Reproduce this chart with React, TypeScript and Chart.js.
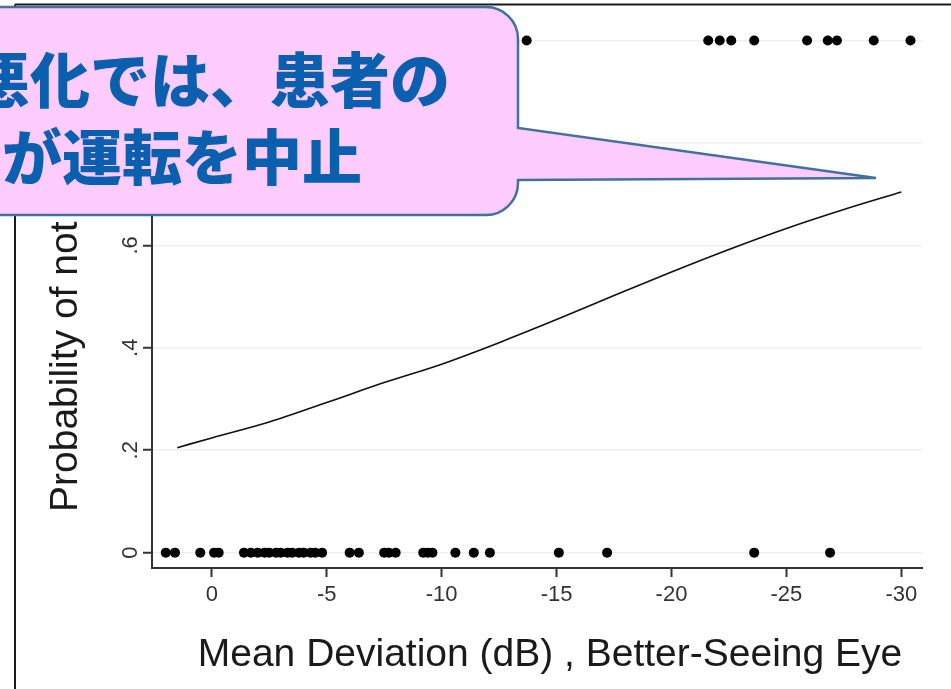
import React, { useEffect, useRef } from "react";
import { Chart, registerables } from "chart.js";

Chart.register(...registerables);

// ---- data ----
const continuedMD = [
  2.0, 1.6, 0.5, -0.1, -0.3, -1.4, -1.7, -2.0, -2.3, -2.5, -2.8, -3.0, -3.3, -3.5,
  -3.8, -4.0, -4.3, -4.5, -4.8, -6.0, -6.4, -7.5, -7.7, -8.0, -9.2, -9.4, -9.6,
  -10.6, -11.4, -12.1, -15.1, -17.2, -23.6, -26.9,
];
const stoppedMD = [-13.7, -21.6, -22.1, -22.6, -23.6, -25.9, -26.8, -27.2, -28.8, -30.4];
const curveMD = [1.5, 0, -2.5, -5, -7.5, -10, -12.5, -15, -17.5, -20, -22.5, -25, -27.5, -30];
const curveProb = [0.205, 0.224, 0.255, 0.293, 0.332, 0.368, 0.41, 0.455, 0.502, 0.548, 0.592, 0.633, 0.67, 0.704];

const xTickValues = [0, -5, -10, -15, -20, -25, -30];
const yTickValues = [0, 0.2, 0.4, 0.6, 0.8, 1];
const yTickLabels = ["0", ".2", ".4", ".6", ".8", "1"];

const xTitle = "Mean Deviation (dB) , Better-Seeing Eye";
const yTitle = "Probability of not driving";
const calloutLines = ["悪化では、患者の", "が運転を中止"];

const W = 951;
const H = 689;

const overlayPlugin = {
  id: "overlay",
  beforeDraw(chart: any) {
    const ctx = chart.ctx;
    ctx.save();
    ctx.fillStyle = "#ffffff";
    ctx.fillRect(0, 0, W, H);
    ctx.strokeStyle = "#1a1a1a";
    ctx.lineWidth = 2;
    ctx.beginPath();
    ctx.moveTo(15, 4.5);
    ctx.lineTo(W, 4.5);
    ctx.moveTo(15, 4.5);
    ctx.lineTo(15, H);
    ctx.stroke();
    ctx.restore();
  },
  afterDraw(chart: any) {
    const ctx = chart.ctx;
    ctx.save();
    // axis titles
    ctx.fillStyle = "#1a1a1a";
    ctx.font = "39px 'Liberation Sans', Arial, sans-serif";
    ctx.textBaseline = "middle";
    ctx.textAlign = "center";
    ctx.fillText(xTitle, 550, 655);
    ctx.save();
    ctx.translate(66, 512);
    ctx.rotate(-Math.PI / 2);
    ctx.textAlign = "left";
    ctx.fillText(yTitle, 0, 0);
    ctx.restore();

    // callout
    const r = 32;
    const right = 518;
    const top = 7;
    const bottom = 215;
    ctx.beginPath();
    ctx.moveTo(-20, top);
    ctx.lineTo(right - r, top);
    ctx.arcTo(right, top, right, top + r, r);
    ctx.lineTo(right, 128);
    ctx.lineTo(876, 178);
    ctx.lineTo(right, 180);
    ctx.lineTo(right, bottom - r);
    ctx.arcTo(right, bottom, right - r, bottom, r);
    ctx.lineTo(-20, bottom);
    ctx.closePath();
    ctx.fillStyle = "#FFCCFF";
    ctx.fill();
    ctx.strokeStyle = "#41719C";
    ctx.lineWidth = 2.5;
    ctx.stroke();

    ctx.fillStyle = "#0A60AE";
    ctx.font = "900 60px 'Noto Sans CJK JP', sans-serif";
    ctx.textAlign = "left";
    ctx.textBaseline = "middle";
    ctx.fillText(calloutLines[0], -30, 80);
    ctx.fillText(calloutLines[1], 2, 157);
    ctx.restore();
  },
};

export default function App() {
  const canvasRef = useRef<HTMLCanvasElement | null>(null);

  useEffect(() => {
    const canvas = canvasRef.current;
    if (!canvas) return;
    const chart = new Chart(canvas, {
      type: "scatter",
      data: {
        datasets: [
          {
            label: "fit",
            data: curveMD.map((x, i) => ({ x, y: curveProb[i] })),
            showLine: true,
            borderColor: "#111111",
            borderWidth: 1.6,
            pointRadius: 0,
            cubicInterpolationMode: "monotone",
            fill: false,
          },
          {
            label: "continued",
            data: continuedMD.map((x) => ({ x, y: 0 })),
            backgroundColor: "#000000",
            borderColor: "#000000",
            pointRadius: 5,
            borderWidth: 0,
          },
          {
            label: "stopped",
            data: stoppedMD.map((x) => ({ x, y: 1 })),
            backgroundColor: "#000000",
            borderColor: "#000000",
            pointRadius: 5,
            borderWidth: 0,
          },
        ],
      },
      options: {
        responsive: false,
        animation: false,
        devicePixelRatio: 1,
        layout: { padding: { left: 0, right: 29, top: 20, bottom: 0 } },
        plugins: {
          legend: { display: false },
          tooltip: { enabled: false },
        },
        scales: {
          x: {
            type: "linear",
            reverse: true,
            min: -30.9,
            max: 2.6,
            afterBuildTicks: (scale: any) => {
              scale.ticks = xTickValues.map((v) => ({ value: v }));
            },
            afterFit: (scale: any) => {
              scale.height = 121;
            },
            grid: {
              drawOnChartArea: false,
              drawTicks: true,
              tickLength: 9,
              tickColor: "#333333",
              tickWidth: 2,
            },
            border: { display: true, color: "#333333", width: 2 },
            ticks: {
              color: "#333333",
              font: { family: "'Liberation Sans', Arial, sans-serif", size: 22 },
              padding: 5,
              maxRotation: 0,
              minRotation: 0,
              autoSkip: false,
              callback: (v: any) => String(v),
            },
          },
          y: {
            type: "linear",
            min: -0.03,
            max: 1.04,
            afterBuildTicks: (scale: any) => {
              scale.ticks = yTickValues.map((v) => ({ value: v }));
            },
            afterFit: (scale: any) => {
              scale.width = 152;
            },
            grid: {
              color: "#efefef",
              lineWidth: 1.5,
              drawTicks: true,
              tickLength: 9,
              tickColor: "#333333",
              tickWidth: 2,
            },
            border: { display: true, color: "#333333", width: 2 },
            ticks: {
              color: "#333333",
              font: { family: "'Liberation Sans', Arial, sans-serif", size: 22 },
              padding: 3,
              minRotation: 90,
              maxRotation: 90,
              crossAlign: "center",
              autoSkip: false,
              callback: (v: any) => {
                const i = yTickValues.findIndex((t) => Math.abs(t - Number(v)) < 1e-9);
                return i >= 0 ? yTickLabels[i] : "";
              },
            },
          },
        },
      },
      plugins: [overlayPlugin],
    } as any);
    return () => chart.destroy();
  }, []);

  return (
    <div style={{ position: "absolute", left: 0, top: 0, width: W, height: H, background: "#fff" }}>
      <canvas ref={canvasRef} width={W} height={H} style={{ display: "block" }} />
    </div>
  );
}
